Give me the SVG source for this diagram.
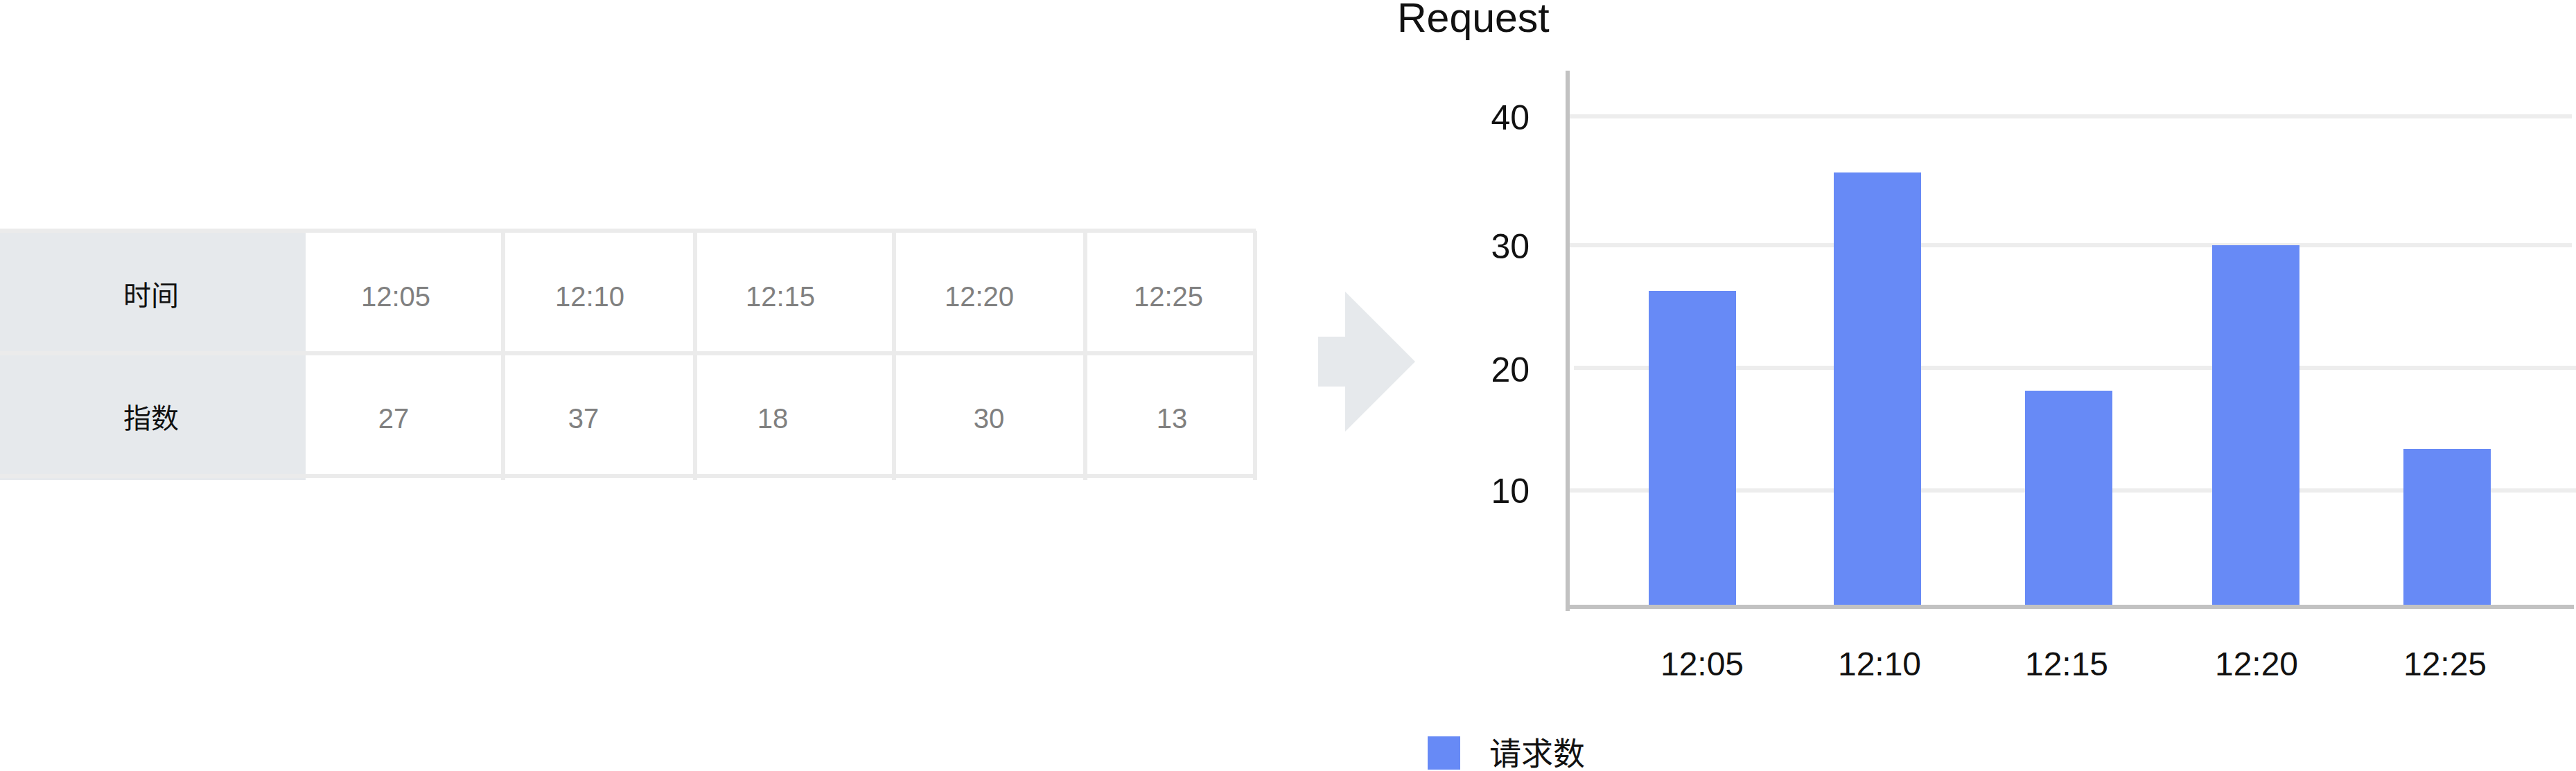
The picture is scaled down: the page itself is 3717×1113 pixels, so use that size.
<svg xmlns="http://www.w3.org/2000/svg" width="3717" height="1113" viewBox="0 0 3717 1113">
<style>
.line{fill:#ebebeb}
.head{fill:#e6e9ec}
.hd{font-family:"Liberation Sans","Noto Sans CJK SC",sans-serif;font-size:40px;fill:#111;text-anchor:middle}
.val{font-family:"Liberation Sans",sans-serif;font-size:40px;fill:#808080;text-anchor:middle}
.grid{fill:#ededed}
.axis{fill:#c2c2c2}
.bar{fill:#678af6}
.yl{font-family:"Liberation Sans",sans-serif;font-size:50px;fill:#111;text-anchor:end}
.xl{font-family:"Liberation Sans",sans-serif;font-size:48px;fill:#111;text-anchor:middle}
.title{font-family:"Liberation Sans",sans-serif;font-size:59px;fill:#111}
.leg{font-family:"Noto Sans CJK SC","Liberation Sans",sans-serif;font-size:46px;fill:#111}
</style>
<rect width="3717" height="1113" fill="#ffffff"/>
<g id="table">
  <rect class="head" x="0" y="336" width="441" height="357"/>
  <rect class="line" x="0" y="330" width="1812" height="6"/>
  <rect class="line" x="0" y="507" width="1812" height="6"/>
  <rect class="line" x="0" y="684" width="1812" height="6"/>
  <rect class="line" x="723" y="336" width="6" height="357"/>
  <rect class="line" x="1000" y="336" width="6" height="357"/>
  <rect class="line" x="1287" y="336" width="6" height="357"/>
  <rect class="line" x="1563" y="336" width="6" height="357"/>
  <rect class="line" x="1808" y="333" width="6" height="360"/>
  <text class="hd" x="218" y="441">时间</text>
  <text class="hd" x="218" y="618">指数</text>
  <text class="val" x="571" y="442">12:05</text>
  <text class="val" x="851" y="442">12:10</text>
  <text class="val" x="1126" y="442">12:15</text>
  <text class="val" x="1413" y="442">12:20</text>
  <text class="val" x="1686" y="442">12:25</text>
  <text class="val" x="568" y="618">27</text>
  <text class="val" x="842" y="618">37</text>
  <text class="val" x="1115" y="618">18</text>
  <text class="val" x="1427" y="618">30</text>
  <text class="val" x="1691" y="618">13</text>
</g>
<g id="arrow">
  <polygon fill="#e6e9ec" points="1902,486 1941,486 1941,421 2042,522 1941,623 1941,558 1902,558"/>
</g>
<g id="chart">
  <text class="title" x="2016" y="46">Request</text>
  <rect class="grid" x="2265" y="165" width="1446" height="6"/>
  <rect class="grid" x="2265" y="351" width="1446" height="6"/>
  <rect class="grid" x="2271" y="528" width="1446" height="6"/>
  <rect class="grid" x="2265" y="705" width="1452" height="6"/>
  <rect class="axis" x="2259" y="102" width="6" height="780"/>
  <rect class="axis" x="2259" y="873" width="1455" height="6"/>
  <text class="yl" x="2207" y="187">40</text>
  <text class="yl" x="2207" y="373">30</text>
  <text class="yl" x="2207" y="551">20</text>
  <text class="yl" x="2207" y="726">10</text>
  <rect class="bar" x="2379" y="420" width="126" height="453"/>
  <rect class="bar" x="2646" y="249" width="126" height="624"/>
  <rect class="bar" x="2922" y="564" width="126" height="309"/>
  <rect class="bar" x="3192" y="354" width="126" height="519"/>
  <rect class="bar" x="3468" y="648" width="126" height="225"/>
  <text class="xl" x="2456" y="975">12:05</text>
  <text class="xl" x="2712" y="975">12:10</text>
  <text class="xl" x="2982" y="975">12:15</text>
  <text class="xl" x="3256" y="975">12:20</text>
  <text class="xl" x="3528" y="975">12:25</text>
</g>
<g id="legend">
  <rect class="bar" x="2060" y="1063" width="47" height="48"/>
  <text class="leg" x="2149" y="1104">请求数</text>
</g>
</svg>
